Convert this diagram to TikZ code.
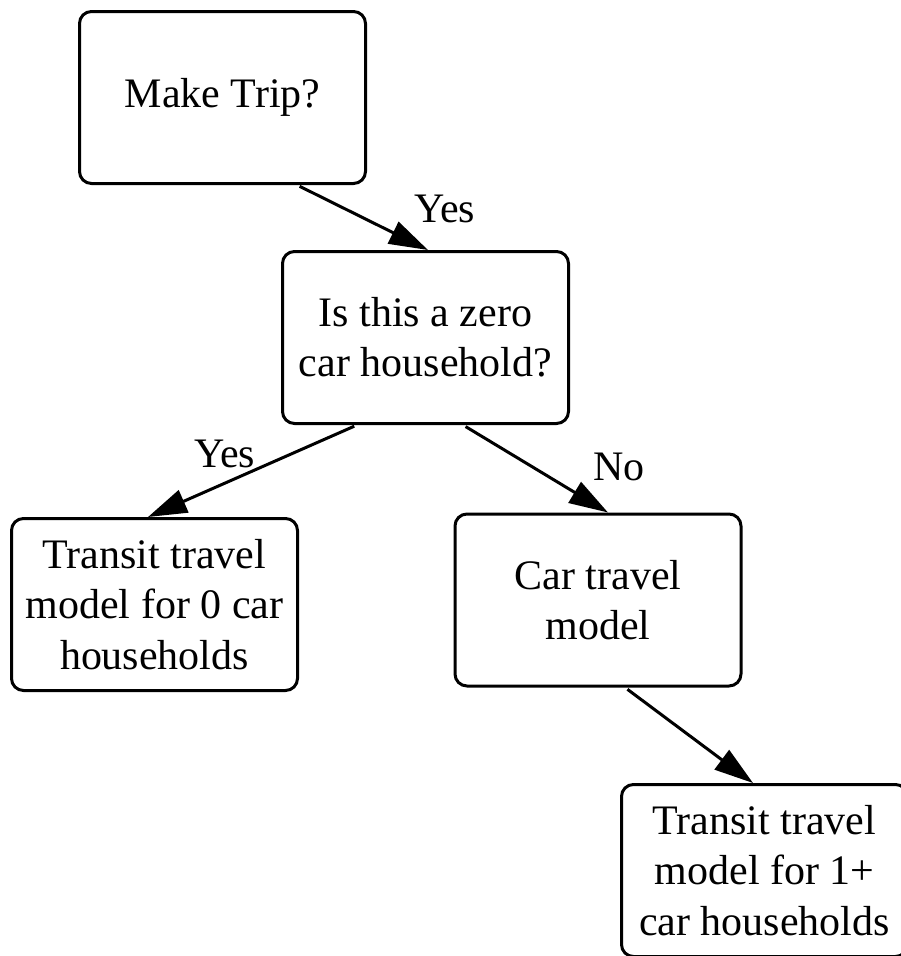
\documentclass[tikz,border=0pt]{standalone}
\usepackage{fontspec}
\setmainfont{Liberation Serif}
\usetikzlibrary{arrows.meta}
\begin{document}
\begin{tikzpicture}[x=1pt,y=-1pt,
  box/.style={draw, line width=3pt, rounded corners=12pt, minimum width=286pt,
    minimum height=172pt, inner sep=0pt, align=center,
    font=\fontsize{42pt}{50.4pt}\selectfont},
  conn/.style={line width=3pt, -{Triangle[length=39pt,width=24pt]}, shorten <=3pt},
  lbl/.style={anchor=base west, inner sep=0pt, font=\fontsize{42pt}{50.4pt}\selectfont}]
\useasboundingbox (0,0) rectangle (901,956);
\clip (0,0) rectangle (901,956);
\fill[white] (0,0) rectangle (901,956);
\node[box] (b1) at (222.5,97.5) {Make Trip?};
\node[box] (b2) at (425.5,337.5) {Is this a zero\\car household?};
\node[box] (b3) at (154.5,604.5) {Transit travel\\model for 0 car\\households};
\node[box] (b4) at (598,600) {Car travel\\model};
\node[box] (b5) at (764.5,870.5) {Transit travel\\model for 1+\\car households};
\draw[conn] ([xshift=74.5pt]b1.south) -- ([xshift=2.5pt]b2.north);
\draw[conn] ([xshift=-68.5pt]b2.south) -- ([xshift=-6.5pt]b3.north);
\draw[conn] ([xshift=37.5pt]b2.south) -- ([xshift=10pt]b4.north);
\draw[conn] ([xshift=27pt]b4.south) -- ([xshift=-11.5pt]b5.north);
\node[lbl] (l1) at (414,222) {Yes};
\node[lbl] (l2) at (194,467) {Yes};
\node[lbl] (l3) at (593,480) {No};
\end{tikzpicture}
\end{document}
